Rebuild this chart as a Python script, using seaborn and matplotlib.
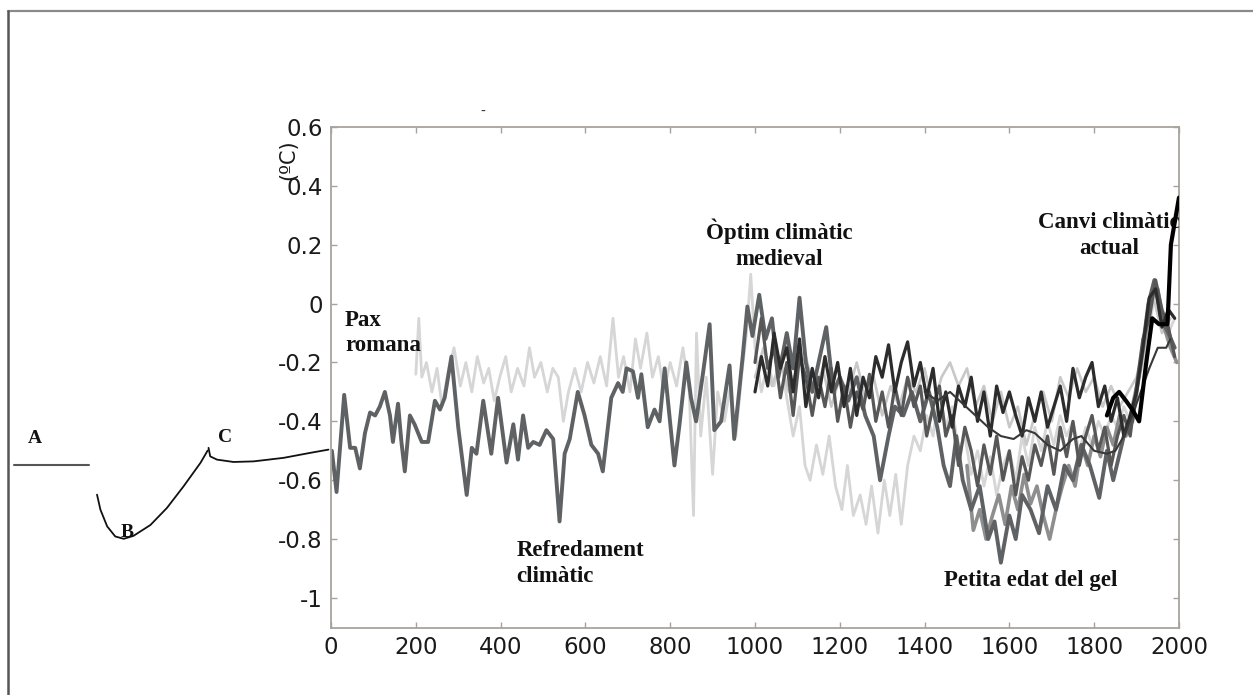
import numpy as np
import pandas as pd
import matplotlib as mpl
mpl.use('Agg')
import matplotlib.pyplot as plt
from matplotlib.lines import Line2D
import seaborn as sns

sns.set_style("ticks")
plt.rcParams['font.family'] = ['DejaVu Sans']

# --- reconstruction series (year, anomaly in ºC) ---
main_years = [2, 13, 31, 45, 57, 68, 80, 92, 104, 115, 127, 139, 146, 158, 166, 174, 186, 197,
              214, 229, 245, 257, 268, 284, 300, 320, 332, 343, 359, 378, 394, 414, 430, 441,
              453, 465, 477, 492, 508, 524, 539, 551, 563, 582, 598, 614, 630, 641, 661, 677,
              688, 697, 712, 724, 732, 747, 763, 775, 787, 810, 822, 838, 849, 861, 877, 893,
              904, 920, 940, 951, 971, 982, 994, 1010, 1025, 1040, 1055, 1075, 1090, 1105,
              1120, 1135, 1150, 1168, 1185, 1200, 1220, 1240, 1260, 1280, 1295, 1315, 1330,
              1350, 1370, 1390, 1410, 1430, 1445, 1460, 1475, 1490, 1510, 1530, 1550, 1565,
              1580, 1600, 1615, 1630, 1650, 1670, 1690, 1710, 1730, 1750, 1770, 1790, 1812,
              1830, 1845, 1870, 1890, 1910, 1928, 1942, 1958, 1975, 1990]
main_vals = [-0.50, -0.64, -0.31, -0.49, -0.49, -0.56, -0.44, -0.37, -0.38, -0.35, -0.30, -0.38,
             -0.47, -0.34, -0.47, -0.57, -0.38, -0.41, -0.47, -0.47, -0.33, -0.36, -0.32, -0.18,
             -0.42, -0.65, -0.49, -0.51, -0.33, -0.51, -0.32, -0.54, -0.41, -0.53, -0.38, -0.49,
             -0.47, -0.48, -0.43, -0.46, -0.74, -0.51, -0.46, -0.30, -0.38, -0.48, -0.51, -0.57,
             -0.32, -0.27, -0.30, -0.22, -0.23, -0.32, -0.24, -0.42, -0.36, -0.40, -0.22, -0.55,
             -0.41, -0.20, -0.32, -0.40, -0.24, -0.07, -0.43, -0.40, -0.21, -0.46, -0.18, -0.01,
             -0.11, 0.03, -0.12, -0.05, -0.25, -0.10, -0.22, 0.02, -0.20, -0.30, -0.20, -0.08,
             -0.30, -0.25, -0.33, -0.25, -0.38, -0.45, -0.60, -0.45, -0.35, -0.38, -0.30, -0.40,
             -0.30, -0.42, -0.55, -0.62, -0.45, -0.60, -0.70, -0.62, -0.80, -0.74, -0.88, -0.72,
             -0.80, -0.65, -0.70, -0.78, -0.62, -0.70, -0.55, -0.60, -0.48, -0.55, -0.66, -0.50,
             -0.60, -0.45, -0.40, -0.20, 0.00, 0.08, -0.05, -0.10, -0.15]

light_years = [200, 207, 214, 225, 238, 250, 262, 275, 290, 305, 318, 332, 345, 360, 372, 385,
               398, 412, 425, 440, 455, 468, 480, 495, 510, 523, 536, 548, 560, 575, 590, 605,
               620, 635, 650, 665, 678, 690, 705, 718, 730, 745, 758, 772, 785, 800, 815, 830,
               845, 855, 862, 872, 885, 900, 912, 928, 942, 955, 968, 980, 990, 1000, 1015,
               1030, 1045, 1060, 1075, 1090, 1105, 1118, 1130, 1145, 1160, 1175, 1190, 1205,
               1218, 1232, 1248, 1262, 1275, 1290, 1305, 1318, 1332, 1345, 1360, 1375, 1390,
               1405, 1420, 1435, 1450, 1465, 1480, 1495, 1510, 1525, 1540, 1555, 1570, 1585,
               1600, 1615, 1630, 1645, 1660, 1675, 1690, 1705, 1720, 1735, 1750, 1765, 1780,
               1795, 1810, 1825, 1840, 1855, 1870, 1885, 1900, 1915, 1930, 1945, 1960, 1975, 1990]
light_vals = [-0.24, -0.05, -0.25, -0.20, -0.30, -0.22, -0.35, -0.24, -0.15, -0.28, -0.20, -0.30,
              -0.18, -0.27, -0.22, -0.33, -0.25, -0.18, -0.30, -0.22, -0.28, -0.15, -0.25, -0.20,
              -0.30, -0.22, -0.25, -0.40, -0.30, -0.22, -0.30, -0.20, -0.27, -0.18, -0.28, -0.05,
              -0.25, -0.18, -0.30, -0.12, -0.22, -0.10, -0.25, -0.18, -0.30, -0.20, -0.28, -0.15,
              -0.30, -0.72, -0.10, -0.45, -0.25, -0.58, -0.30, -0.40, -0.28, -0.45, -0.25, -0.10,
              0.10, -0.15, -0.30, -0.20, -0.28, -0.18, -0.32, -0.45, -0.35, -0.55, -0.60, -0.48,
              -0.58, -0.45, -0.62, -0.70, -0.55, -0.72, -0.65, -0.75, -0.62, -0.78, -0.60, -0.72,
              -0.58, -0.75, -0.55, -0.45, -0.50, -0.38, -0.45, -0.30, -0.42, -0.35, -0.50, -0.45,
              -0.58, -0.50, -0.62, -0.52, -0.65, -0.55, -0.50, -0.60, -0.45, -0.55, -0.42, -0.50,
              -0.40, -0.48, -0.38, -0.45, -0.40, -0.50, -0.42, -0.48, -0.40, -0.45, -0.38, -0.42,
              -0.35, -0.40, -0.30, -0.20, -0.08, 0.05, -0.05, -0.10, -0.05]

pale_years = list(range(1000, 1981, 20))
pale_vals = [-0.25, -0.15, -0.28, -0.20, -0.30, -0.22, -0.18, -0.30, -0.22, -0.35, -0.25, -0.30,
             -0.20, -0.32, -0.25, -0.38, -0.28, -0.35, -0.25, -0.30, -0.22, -0.35, -0.25, -0.20,
             -0.28, -0.22, -0.35, -0.28, -0.40, -0.30, -0.42, -0.35, -0.48, -0.38, -0.30, -0.40,
             -0.25, -0.32, -0.22, -0.30, -0.25, -0.35, -0.28, -0.35, -0.30, -0.25, -0.12, 0.02,
             -0.10, -0.05]

dark_years = list(range(1000, 1991, 15))
dark_vals = [-0.30, -0.18, -0.28, -0.10, -0.22, -0.15, -0.30, -0.12, -0.35, -0.22, -0.32, -0.18,
             -0.30, -0.20, -0.35, -0.22, -0.38, -0.25, -0.32, -0.18, -0.25, -0.14, -0.30, -0.20,
             -0.13, -0.28, -0.20, -0.32, -0.22, -0.40, -0.30, -0.42, -0.28, -0.35, -0.25, -0.40,
             -0.30, -0.45, -0.28, -0.37, -0.30, -0.38, -0.45, -0.32, -0.40, -0.30, -0.42, -0.35,
             -0.28, -0.40, -0.22, -0.32, -0.25, -0.20, -0.35, -0.28, -0.40, -0.32, -0.45, -0.38,
             -0.30, -0.15, 0.02, 0.05, -0.08, -0.02, -0.05]

mid_years = list(range(1000, 1991, 15))
mid_vals = [-0.20, -0.05, -0.22, -0.15, -0.32, -0.20, -0.38, -0.18, -0.25, -0.38, -0.25, -0.35,
            -0.22, -0.40, -0.28, -0.42, -0.30, -0.36, -0.24, -0.40, -0.30, -0.42, -0.28, -0.38,
            -0.25, -0.35, -0.28, -0.45, -0.35, -0.28, -0.45, -0.38, -0.55, -0.42, -0.50, -0.62,
            -0.48, -0.58, -0.45, -0.60, -0.50, -0.65, -0.52, -0.60, -0.48, -0.55, -0.45, -0.58,
            -0.42, -0.52, -0.40, -0.55, -0.45, -0.38, -0.50, -0.42, -0.55, -0.45, -0.38, -0.45,
            -0.28, -0.12, -0.05, 0.08, -0.02, -0.08, -0.18]

lia_years = list(range(1500, 1996, 15))
lia_vals = [-0.55, -0.77, -0.70, -0.80, -0.72, -0.65, -0.75, -0.62, -0.70, -0.58, -0.68, -0.62,
            -0.72, -0.80, -0.70, -0.62, -0.55, -0.62, -0.48, -0.55, -0.45, -0.52, -0.42, -0.48,
            -0.38, -0.45, -0.35, -0.25, -0.12, 0.02, 0.05, -0.08, -0.15, -0.20]

smooth_years = [1400, 1430, 1460, 1490, 1520, 1550, 1580, 1610, 1640, 1660, 1690, 1720, 1750,
                1770, 1800, 1830, 1850, 1870, 1890, 1910, 1930, 1950, 1970, 1980]
smooth_vals = [-0.30, -0.33, -0.30, -0.34, -0.38, -0.42, -0.45, -0.46, -0.43, -0.44, -0.48, -0.50,
               -0.46, -0.45, -0.50, -0.51, -0.50, -0.45, -0.38, -0.30, -0.22, -0.15, -0.15, -0.12]

inst_years = [1830, 1845, 1859, 1875, 1890, 1906, 1922, 1937, 1953, 1973, 1981, 2000]
inst_vals = [-0.38, -0.32, -0.30, -0.33, -0.36, -0.40, -0.21, -0.05, -0.07, -0.07, 0.20, 0.36]

# schematic on the left (A-B-C), in the same year / ºC units
sketch_a_x = [-749, -570]
sketch_a_y = [-0.547, -0.547]
sketch_b_x = [-552, -544, -528, -509, -489, -466, -426, -387, -348, -308, -291]
sketch_b_y = [-0.649, -0.700, -0.757, -0.791, -0.799, -0.789, -0.752, -0.694, -0.621, -0.541, -0.499]
sketch_c_x = [-289, -285, -269, -230, -183, -112, -49, -6]
sketch_c_y = [-0.490, -0.519, -0.530, -0.538, -0.536, -0.524, -0.507, -0.496]

x_ticks = [0, 200, 400, 600, 800, 1000, 1200, 1400, 1600, 1800, 2000]
y_ticks = [0.6, 0.4, 0.2, 0, -0.2, -0.4, -0.6, -0.8, -1]
y_labels = ['0.6', '0.4', '0.2', '0', '-0.2', '-0.4', '-0.6', '-0.8', '-1']

fig = plt.figure(figsize=(12.53, 6.95), dpi=100)
ax = fig.add_axes([0.2642, 0.0964, 0.6767, 0.7209])

series = [
    (light_years, light_vals, '#d6d6d6', 2.0, 2),
    (pale_years, pale_vals, '#c8c8c8', 1.9, 2),
    (lia_years, lia_vals, '#8e8e8e', 2.6, 2),
    (main_years, main_vals, '#5f6264', 2.8, 2.5),
    (mid_years, mid_vals, '#575757', 2.3, 2.6),
    (dark_years, dark_vals, '#2c2c2c', 2.3, 2.7),
    (smooth_years, smooth_vals, '#383838', 1.5, 2.8),
    (inst_years, inst_vals, '#000000', 3.0, 5),
]
for yrs, vals, col, lw, z in series:
    df = pd.DataFrame({'year': yrs, 'temp': vals})
    sns.lineplot(data=df, x='year', y='temp', ax=ax, color=col, linewidth=lw,
                 estimator=None, zorder=z)

ax.set_xlim(0, 2000)
ax.set_ylim(-1.102, 0.6)
ax.set_xticks(x_ticks)
ax.set_xticklabels([str(t) for t in x_ticks])
ax.set_yticks(y_ticks)
ax.set_yticklabels(y_labels)
ax.set_xlabel('')
ax.set_ylabel('')
ax.tick_params(direction='in', length=4, width=1, color='#a8a29c', top=True, right=True,
               labelsize=16.5, labelcolor='#1a1a1a', pad=6)
for s in ax.spines.values():
    s.set_color('#a8a29c')
    s.set_linewidth(1.3)

ax.text(-0.051, 0.934, '(ºC)', transform=ax.transAxes, rotation=90, ha='center', va='center',
        fontsize=15, color='#1a1a1a')

serif = dict(family='Liberation Serif', fontweight='bold', fontsize=16.5, color='#111111', zorder=3)
ax.text(33, -0.10, 'Pax\nromana', ha='left', va='center', linespacing=1.3, **serif)
ax.text(1058, 0.202, 'Òptim climàtic\nmedieval', ha='center', va='center', linespacing=1.3, **serif)
ax.text(1835, 0.231, 'Canvi climàtic\nactual', ha='center', va='center', linespacing=1.3, **serif)
ax.text(438, -0.883, 'Refredament\nclimàtic', ha='left', va='center', linespacing=1.3, **serif)
ax.text(1446, -0.942, 'Petita edat del gel', ha='left', va='center', **serif)

# left-hand schematic
ax.plot(sketch_a_x, sketch_a_y, color='#555555', lw=1.5, clip_on=False)
ax.plot(sketch_b_x, sketch_b_y, color='#111111', lw=1.3, clip_on=False)
ax.plot(sketch_c_x, sketch_c_y, color='#111111', lw=1.3, clip_on=False)
abc = dict(family='Liberation Serif', fontweight='bold', fontsize=14, color='#111111',
           ha='center', va='center')
ax.text(-699, -0.459, 'A', clip_on=False, **abc)
ax.text(-481, -0.779, 'B', clip_on=False, **abc)
ax.text(-250, -0.455, 'C', clip_on=False, **abc)

fig.text(483 / 1253, 1 - 112 / 695, '-', ha='center', va='center', fontsize=10, color='#333333')

# page frame: only the top and left edges show in the original scan
fig.add_artist(Line2D([0.0064, 1.0], [0.9843, 0.9843], transform=fig.transFigure,
                      color='#8a8a8a', linewidth=1.6))
fig.add_artist(Line2D([0.0064, 0.0064], [0.0, 0.9843], transform=fig.transFigure,
                      color='#555555', linewidth=1.8))

fig.savefig('out.png', dpi=100)
